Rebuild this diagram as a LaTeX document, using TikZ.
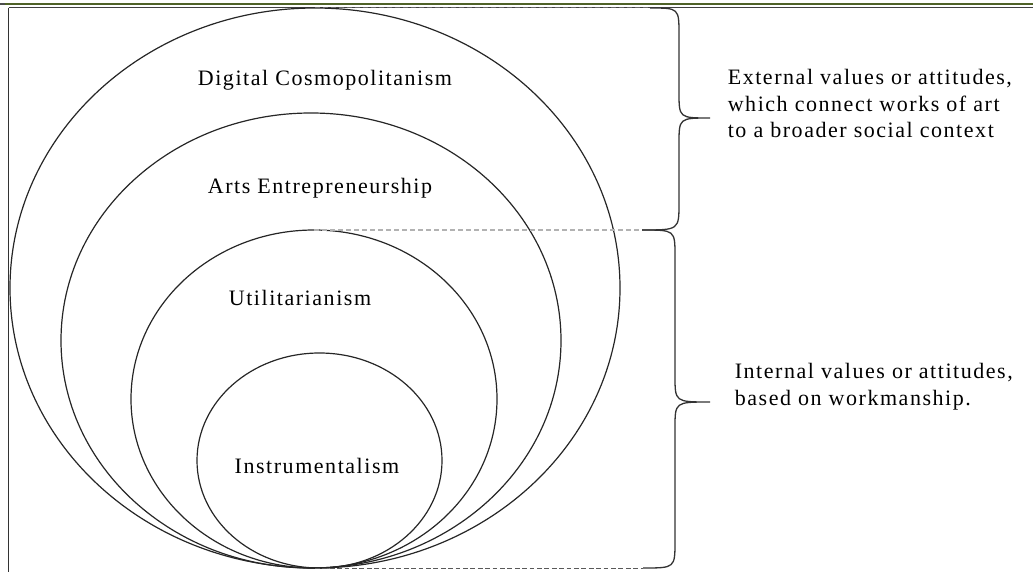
\documentclass[tikz,border=0pt]{standalone}
\usepackage{fontspec}
\setmainfont{Liberation Serif}[LetterSpace=7]
\definecolor{rulegreen}{RGB}{79,98,40}
\begin{document}
\begin{tikzpicture}[x=1pt,y=-1pt,line width=1pt,
  every node/.style={font=\fontsize{22}{26.5}\selectfont}]
\useasboundingbox (0,0) rectangle (1033,572);
% page rules and frame
\fill[rulegreen] (5,2.7) rectangle (1033,4.7);
\fill[black!70] (0,3) rectangle (5,5.5);
\draw[black!75,line width=1.2pt] (8.5,7.6) -- (1033,7.6);
\draw[black!80] (8.5,7.6) -- (8.5,572);
% nested value circles, all touching at the bottom
\draw[black!85,line width=1.2pt] (315,288) ellipse (305 and 280);
\draw[black!85,line width=1.2pt] (311,340.5) ellipse (250 and 227.5);
\draw[black!85,line width=1.2pt] (314,399) ellipse (183 and 169);
\draw[black!85,line width=1.2pt] (319.5,460.5) ellipse (122.5 and 107.5);
\node (digital) at (325,80) {Digital Cosmopolitanism};
\node (arts) at (320,188) {Arts Entrepreneurship};
\node (util) at (300,298) {Utilitarianism};
\node (instr) at (317,466) {Instrumentalism};
% levels marked off to the braces
\coordinate (top) at (315,8);
\coordinate (mid) at (314,230);
\coordinate (bot) at (315,568);
\coordinate (btop) at (650,8);
\coordinate (bmid) at (642,230);
\coordinate (bbot) at (643,568);
\draw[black!60,dash pattern=on 5pt off 3pt] (top) -- (btop);
\draw[black!30,line width=1.5pt,dash pattern=on 5pt off 3pt] (mid) -- (bmid);
\draw[black!65,dash pattern=on 4.7pt off 2.7pt] (bot) -- (bbot);
% the two braces
\draw[black!80,line width=1.3pt] (btop) .. controls (679,8) .. (679,35) -- (679,92)
  .. controls (679,118) .. (710,118) .. controls (679,118) .. (679,144) -- (679,203)
  .. controls (679,230) .. (bmid);
\draw[black!80,line width=1.3pt] (bmid) .. controls (675,230) .. (675,256) -- (675,376)
  .. controls (675,402) .. (710,402) .. controls (675,402) .. (675,428) -- (675,541)
  .. controls (675,568) .. (bbot);
\node[anchor=west,align=left] (external) at (724,103.5) {External values or attitudes,\\which connect works of art\\to a broader social context};
\node[anchor=west,align=left] (internal) at (731,386.5) {Internal values or attitudes,\\based on workmanship.};
\end{tikzpicture}
\end{document}
